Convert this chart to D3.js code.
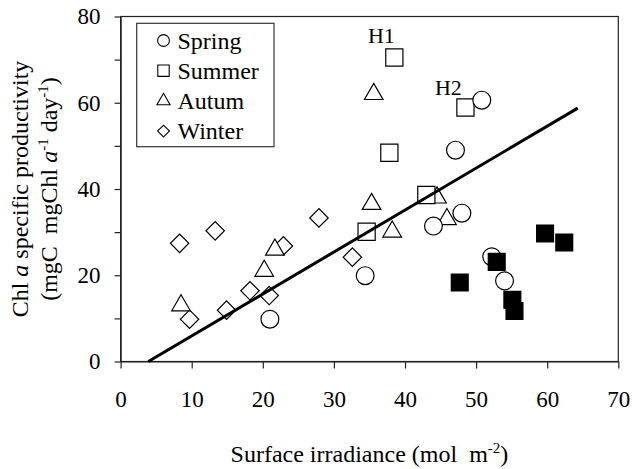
<!DOCTYPE html>
<html>
<head>
<meta charset="utf-8">
<script src="https://cdn.jsdelivr.net/npm/d3@7"></script>
<style>
  body { margin: 0; background: white; }
  text { font-family: "Liberation Serif", "Times New Roman", serif; fill: #000; }
</style>
</head>
<body>
<div class="box"></div>
<script>
// DATA (x = surface irradiance, y = Chl a specific productivity)
const spring = [[50.8, 60.6], [47.1, 49.0], [48.0, 34.4], [44.0, 31.4], [52.2, 24.3], [54.0, 18.7], [34.4, 19.9], [21.0, 9.8]];
const summer = [[38.5, 70.5], [48.5, 58.9], [37.8, 48.4], [43.0, 38.6], [34.6, 30.1]];
const autumn = [[35.6, 62.0], [44.5, 38.0], [45.9, 33.0], [35.3, 36.5], [38.2, 30.1], [21.7, 25.9], [20.2, 21.0], [8.5, 13.0]];
const winter = [[8.3, 27.4], [13.3, 30.3], [27.9, 33.3], [22.9, 26.8], [32.6, 24.2], [9.7, 9.8], [14.9, 11.9], [18.2, 16.4], [20.9, 15.3]];
const filledSquares = [[59.7, 29.7], [62.4, 27.6], [52.9, 23.1], [47.7, 18.3], [55.1, 14.3], [55.4, 11.7]];
const fitLine = [[3.9, 0], [64.3, 58.75]];

const legendLabels = ['Spring', 'Summer', 'Autum', 'Winter'];
const xTicks = [0, 10, 20, 30, 40, 50, 60, 70];
const yTicks = [0, 10, 20, 30, 40, 50, 60, 70, 80];

// SETUP
const width = 632, height = 469;
const svg = d3.select('.box')
              .append('svg')
              .attr('width', width)
              .attr('height', height);

const plot = {left: 120.6, right: 618.3, top: 16.5, bottom: 361.5};

const x = d3.scaleLinear().domain([0, 70]).range([plot.left, plot.right]);
const y = d3.scaleLinear().domain([0, 80]).range([plot.bottom, plot.top]);

// frame around plot area
svg.append('rect')
   .attr('x', plot.left)
   .attr('y', plot.top)
   .attr('width', plot.right - plot.left)
   .attr('height', plot.bottom - plot.top)
   .attr('fill', 'none')
   .attr('stroke', '#222')
   .attr('stroke-width', 1.2);

// axes
const gx = svg.append('g')
              .attr('transform', `translate(0, ${plot.bottom})`)
              .call(d3.axisBottom(x).tickValues(xTicks).tickSize(7).tickSizeOuter(0).tickPadding(22));
const gy = svg.append('g')
              .attr('transform', `translate(${plot.left}, 0)`)
              .call(d3.axisLeft(y).tickValues(yTicks).tickSize(6).tickSizeOuter(0).tickPadding(14)
                      .tickFormat(d => d % 20 === 0 ? d : ''));

[gx, gy].forEach(g => {
  g.select('.domain').attr('stroke', '#222').attr('stroke-width', 1.2);
  g.selectAll('.tick line').attr('stroke', '#222').attr('stroke-width', 1.2);
  g.selectAll('.tick text')
   .style('font-family', '"Liberation Serif", serif')
   .style('font-size', '23px')
   .attr('fill', '#000');
});

// axis titles
const xTitle = svg.append('text')
                  .attr('x', (plot.left + plot.right) / 2)
                  .attr('y', 462)
                  .attr('text-anchor', 'middle')
                  .style('font-size', '24px');
xTitle.append('tspan').text('Surface irradiance (mol\u00a0\u00a0m');
xTitle.append('tspan').attr('dy', -9).style('font-size', '15px').text('-2');
xTitle.append('tspan').attr('dy', 9).text(')');

const yTitle = svg.append('g')
                  .attr('transform', `translate(0, ${(plot.top + plot.bottom) / 2}) rotate(-90)`);
const yt1 = yTitle.append('text')
                  .attr('x', 0).attr('y', 28)
                  .attr('text-anchor', 'middle')
                  .style('font-size', '24px');
yt1.append('tspan').text('Chl ');
yt1.append('tspan').style('font-style', 'italic').text('a');
yt1.append('tspan').text(' specific productivity');

const yt2 = yTitle.append('text')
                  .attr('x', 0).attr('y', 57)
                  .attr('text-anchor', 'middle')
                  .style('font-size', '24px');
yt2.append('tspan').text('(mgC\u00a0\u00a0mgChl ');
yt2.append('tspan').style('font-style', 'italic').text('a');
yt2.append('tspan').attr('dy', -9).style('font-size', '15px').text('-1');
yt2.append('tspan').attr('dy', 9).text(' day');
yt2.append('tspan').attr('dy', -9).style('font-size', '15px').text('-1');
yt2.append('tspan').attr('dy', 9).text(')');

// MARKERS
const circle = d3.symbol().type(d3.symbolCircle).size(250)();
const square = d3.symbol().type(d3.symbolSquare).size(295)();
const triangle = d3.symbol().type(d3.symbolTriangle).size(150)();
const diamond = d3.symbol().type(d3.symbolSquare).size(170)();
const filledSq = d3.symbol().type(d3.symbolSquare).size(285)();

function drawSeries(data, path, fill, rot) {
  svg.append('g')
     .selectAll('path')
     .data(data)
     .enter()
     .append('path')
     .attr('d', path)
     .attr('transform', d => `translate(${x(d[0])}, ${y(d[1])})` + (rot ? ` rotate(${rot})` : ''))
     .attr('fill', fill)
     .attr('stroke', '#000')
     .attr('stroke-width', 1.2);
}

drawSeries(winter, diamond, 'white', 45);
drawSeries(autumn, triangle, 'white');
drawSeries(summer, square, 'white');
drawSeries(spring, circle, 'white');
drawSeries(filledSquares, filledSq, '#000');

// regression line
svg.append('path')
   .datum(fitLine)
   .attr('d', d3.line().x(d => x(d[0])).y(d => y(d[1])))
   .attr('fill', 'none')
   .attr('stroke', '#000')
   .attr('stroke-width', 3);

// H1 / H2 labels
svg.append('text')
   .attr('x', x(summer[0][0]) - 13)
   .attr('y', y(summer[0][1]) - 14)
   .attr('text-anchor', 'middle')
   .style('font-size', '22px')
   .text('H1');
svg.append('text')
   .attr('x', x(summer[1][0]) - 17)
   .attr('y', y(summer[1][1]) - 12)
   .attr('text-anchor', 'middle')
   .style('font-size', '22px')
   .text('H2');

// LEGEND
const legend = svg.append('g');
legend.append('rect')
      .attr('x', 136.7).attr('y', 23.3)
      .attr('width', 137.3).attr('height', 123.4)
      .attr('fill', 'white')
      .attr('stroke', '#333')
      .attr('stroke-width', 1.2);

const legendSymbols = [
  d3.symbol().type(d3.symbolCircle).size(110)(),
  d3.symbol().type(d3.symbolSquare).size(130)(),
  d3.symbol().type(d3.symbolTriangle).size(75)(),
  d3.symbol().type(d3.symbolSquare).size(70)()
];

legendLabels.forEach((label, i) => {
  const cy = 40.5 + i * 30.2;
  legend.append('path')
        .attr('d', legendSymbols[i])
        .attr('transform', `translate(163.5, ${cy})` + (i === 3 ? ' rotate(45)' : ''))
        .attr('fill', 'white')
        .attr('stroke', '#000')
        .attr('stroke-width', 1.1);
  legend.append('text')
        .attr('x', 177.5)
        .attr('y', cy + 8)
        .style('font-size', '24px')
        .text(label);
});
</script>
</body>
</html>
